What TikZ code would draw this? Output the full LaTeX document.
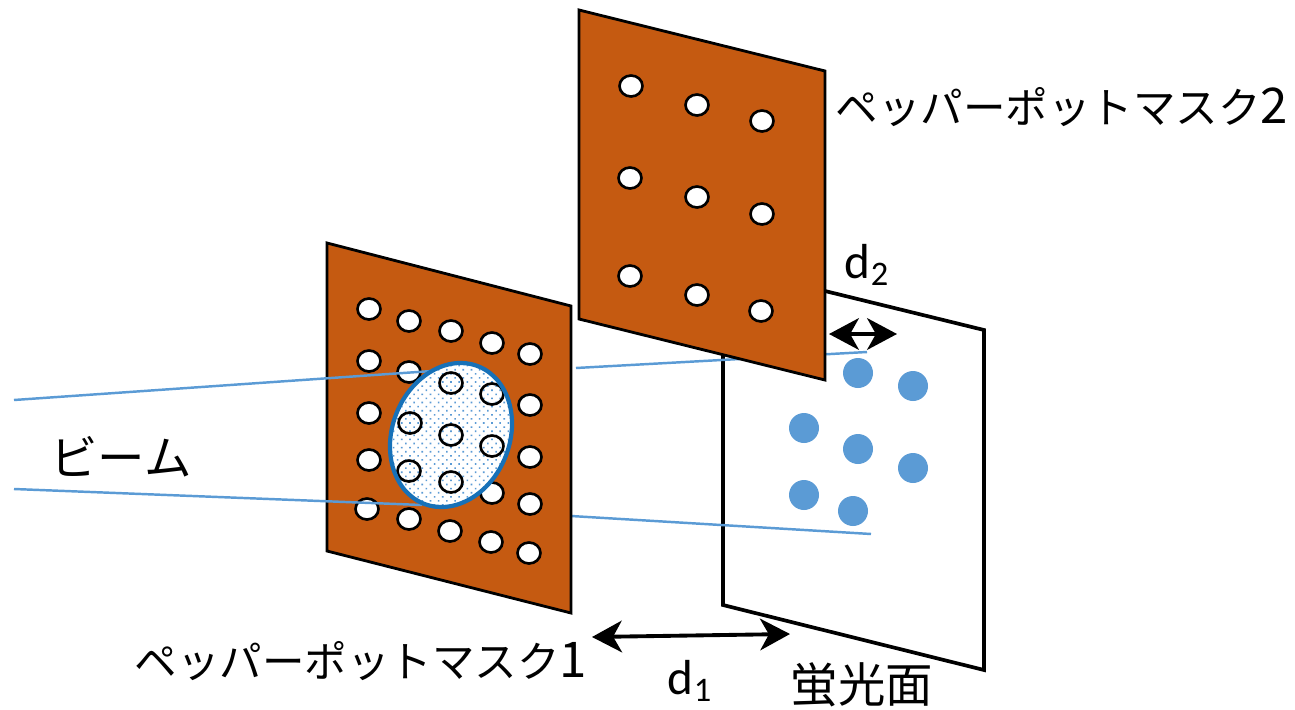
\documentclass[tikz,border=0pt]{standalone}
\usepackage{fontspec}
\setmainfont{Carlito}
\newfontfamily\cjk{Noto Sans CJK JP}
\usetikzlibrary{arrows.meta,patterns.meta}
\definecolor{maskbrown}{RGB}{197,90,17}
\definecolor{beamblue}{RGB}{91,155,213}
\definecolor{rimblue}{RGB}{23,113,184}
\tikzset{
	mask/.style={draw=black,line width=1.6pt,fill=maskbrown},
	hole/.style={draw=black,line width=1.5pt,fill=white},
	beam/.style={draw=beamblue,line width=1.4pt},
	gap/.style={{Stealth[length=17pt,width=18pt,inset=5pt]}-{Stealth[length=17pt,width=18pt,inset=5pt]},line width=2.2pt},
	label/.style={font=\fontsize{24.2}{28}\selectfont\cjk,inner sep=0pt},
	dist/.style={font=\fontsize{28}{32}\selectfont,inner sep=0pt}
}
\begin{document}
\begin{tikzpicture}[x=0.02cm,y=-0.02cm]
	\useasboundingbox (0,0) rectangle (1295,710);
	
	% screen
	\draw[line width=2.1pt,fill=white] (723,266) -- (984,330) -- (984,670) -- (723,605) -- cycle;
	
	% spots on the screen
	\foreach \x/\y in {858/373,913/386,804/428,858/449,913/468,804/495,853/511}
		\fill[beamblue] (\x,\y) circle (15);
	
	% beam edges
	\coordinate (topa) at (14,400);
	\coordinate (topb) at (432,371);
	\coordinate (topc) at (576,368);
	\coordinate (topd) at (867,352);
	\coordinate (bota) at (14,489);
	\coordinate (botb) at (422,505);
	\coordinate (botc) at (571,516);
	\coordinate (botd) at (871,534);
	\draw[beam] (topc) -- (topd);
	\draw[beam] (botc) -- (botd);
	
	% mask 2
	\draw[mask] (579,10) -- (825,71) -- (825,380) -- (579,319) -- cycle;
	\foreach \x/\y in {631/86,697/105,762/121,630/178,697/197,762/214,630/276,697/295,761/311}
		\draw[hole] (\x,\y) ellipse (11.5 and 10.5);
	
	% mask 1
	\draw[mask] (327,243) -- (571,306) -- (571,613) -- (327,551) -- cycle;
	\foreach \x/\y in {369/309,409/321,451/331,492/343,530/354,
		369/361,409/372,530/405,
		369/413,530/457,
		369/460,492/493,530/504,
		367/509,409/519,450/531,491/542,529/553}
		\draw[hole] (\x,\y) ellipse (11.5 and 10.5);
	\draw[beam] (topa) -- (topb);
	\draw[beam] (bota) -- (botb);
	
	% beam spot on mask 1
	\fill[white,rotate around={-21.7:(451,435)}] (451,435) ellipse (58.7 and 73.9);
	\fill[pattern={Dots[distance=3.3pt,radius=0.65pt,angle=45]},pattern color=beamblue,rotate around={-21.7:(451,435)}] (451,435) ellipse (58.7 and 73.9);
	\foreach \x/\y in {451/383,492/394,410/423,451/435,492/446,409/471,451/482}
		\draw[line width=1.5pt] (\x,\y) ellipse (11.5 and 10.5);
	\draw[rimblue,line width=2.4pt,rotate around={-21.7:(451,435)}] (451,435) ellipse (58.7 and 73.9);
	
	% distances
	\coordinate (gaptwoa) at (829,334);
	\coordinate (gaptwob) at (897,334);
	\coordinate (gaponea) at (592,637);
	\coordinate (gaponeb) at (790,634);
	\draw[gap] (gaptwoa) -- (gaptwob);
	\draw[gap] (gaponea) -- (gaponeb);
	
	% labels
	\node[label] (masktwo) at (1062,107) {ペッパーポットマスク{\fontsize{28}{32}\selectfont 2}};
	\node[label] (maskone) at (361,661) {ペッパーポットマスク{\fontsize{28}{32}\selectfont 1}};
	\node[label,font=\fontsize{27}{30}\selectfont\cjk] (beamlabel) at (121,457) {ビーム};
	\node[label,font=\fontsize{27}{30}\selectfont\cjk] (screenlabel) at (862,685) {蛍光面};
	\node[dist] (dtwo) at (867,265) {d\textsubscript{2}};
	\node[dist] (done) at (690,681) {d\textsubscript{1}};
\end{tikzpicture}
\end{document}
